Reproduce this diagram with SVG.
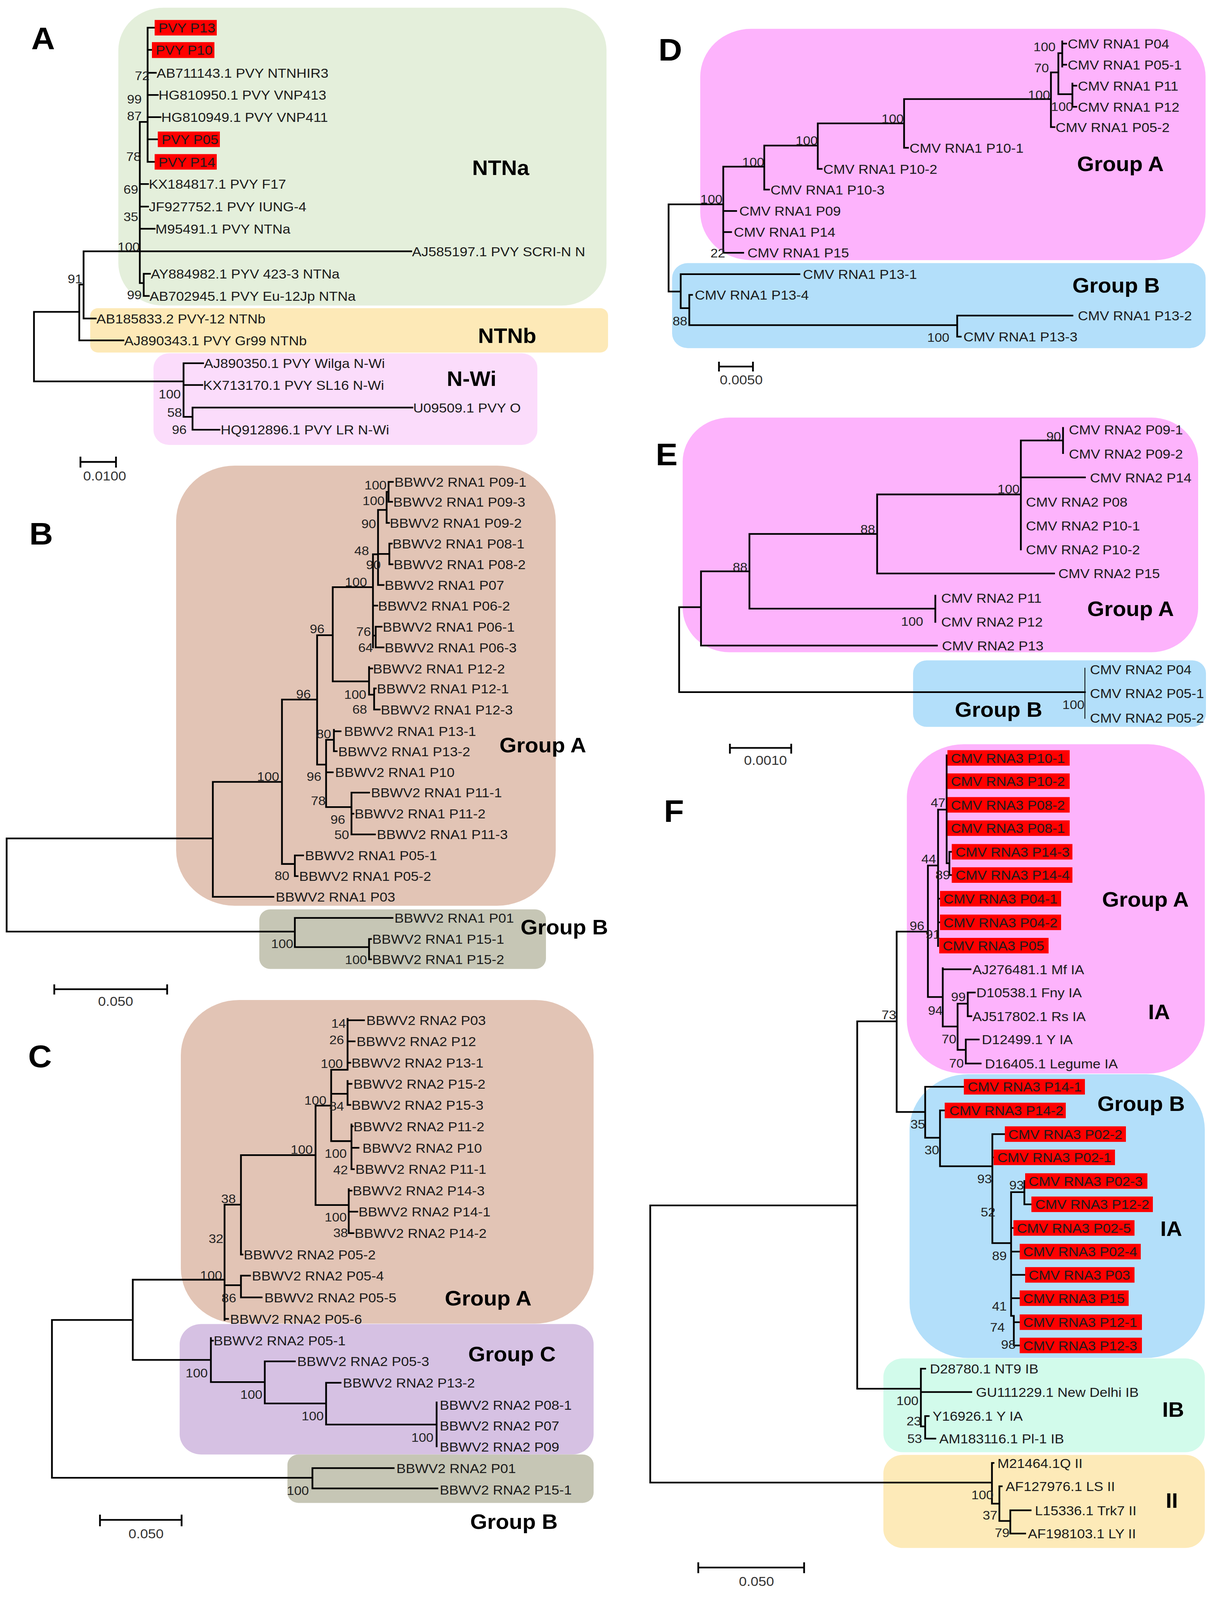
<svg xmlns="http://www.w3.org/2000/svg" width="3106" height="4313" viewBox="0 0 3106 4313">
<style>
text{font-family:"Liberation Sans",Arial,sans-serif}
.lf{font-size:36px;fill:#1a1a1a}
.bs{font-size:34px;fill:#222;text-anchor:end}
.bl{font-size:34px;fill:#222}
.gl{font-size:56px;font-weight:bold;fill:#000}
.pl{font-size:84px;font-weight:bold;fill:#000}
.sc{font-size:36px;fill:#333;text-anchor:middle}
.br{fill:none;stroke:#000;stroke-width:4.5;stroke-linecap:square}
.thin{fill:none;stroke:#000;stroke-width:2}
.hl{fill:#fe0000}
</style>
<rect width="3106" height="4313" fill="#fff"/>
<g id="diagram" transform="scale(1 0.946)">
<g id="clades">
<rect id="A-NTNa" x="303" y="21" width="1250" height="806" rx="115" fill="#e4efdb"/>
<rect id="A-NTNb" x="231" y="834" width="1326" height="120" rx="20" fill="#fde9b7"/>
<rect id="A-NWi" x="393" y="956" width="983" height="248" rx="40" fill="#fbdcfb"/>
<rect id="B-GA" x="451" y="1260" width="972" height="1191" rx="150" fill="#e2c4b5"/>
<rect id="B-GB" x="664" y="2461" width="734" height="161" rx="28" fill="#c6c6b5"/>
<rect id="C-GA" x="463" y="2706" width="1057" height="876" rx="150" fill="#e2c4b5"/>
<rect id="C-GC" x="460" y="3583" width="1060" height="353" rx="55" fill="#d6c1e3"/>
<rect id="C-GB" x="736" y="3936" width="784" height="131" rx="28" fill="#c6c6b5"/>
<rect id="D-GA" x="1793" y="78" width="1294" height="626" rx="130" fill="#fdb3fc"/>
<rect id="D-GB" x="1721" y="712" width="1366" height="230" rx="40" fill="#b3dffa"/>
<rect id="E-GA" x="1748" y="1130" width="1320" height="635" rx="120" fill="#fdb3fc"/>
<rect id="E-GB" x="2338" y="1787" width="750" height="180" rx="35" fill="#b3dffa"/>
<rect id="F-GA" x="2322" y="2014" width="763" height="891" rx="145" fill="#fdb3fc"/>
<rect id="F-GB" x="2329" y="2907" width="756" height="768" rx="150" fill="#b3dffa"/>
<rect id="F-IB" x="2262" y="3676" width="823" height="254" rx="50" fill="#d2fbeb"/>
<rect id="F-II" x="2262" y="3937" width="823" height="252" rx="50" fill="#fdeab8"/>
</g>
<g id="connectors">
<path class="br" d="M378 75V438M378 75H396M378 135H389M378 197H399M378 257H404M378 317H411M378 377H404M378 438H396M358 330H378M358 330V766M358 498H379M358 559H379M358 619H396M214 680H1053M358 766H368M368 741V801M368 741H384M368 801H381M214 680V862H245M203 770H214M203 770V921H316M87 844H203M87 844V1032H470M470 983V1128M470 983H520M470 1042H518M470 1128H493M493 1103V1163M493 1103H1056M493 1163H562"/>
<path class="br" d="M995 1304V1358M995 1304H1006M995 1358H1004M990 1331V1415M990 1331H995M990 1415H996M968 1380V1583M968 1380H990M968 1583H982M968 1499H997M997 1471V1527M997 1471H1003M997 1527H1005M955 1500V1752M955 1500H968M852 1589H955M955 1639H966M955 1720H962M962 1696V1752M962 1696H977M962 1752H982M812 1719H852M852 1589V1844H945M945 1805V1880M945 1809H953M945 1880H958M958 1863V1920M958 1863H962M958 1920H972M722 1893H812M812 1719V2069H835M835 2002V2184M835 2002H855M855 1975V2033M855 1979H872M855 2033H862M835 2090H852M835 2184H900M900 2145V2258M900 2145H945M900 2202H905M900 2258H960M545 2116H722M722 1893V2338H755M755 2315V2371M755 2315H776M755 2371H762M545 2116V2427H700M17 2269H545M17 2269V2521H755M755 2484V2563M755 2484H1005M755 2563H945M945 2541V2596M945 2541H950M945 2596H950"/>
<path class="br" d="M890 2757V2895M890 2761H932M890 2818H908M890 2876H897M848 2895H890M890 2925V2990M890 2933H900M890 2990H897M848 2960H890M848 2895V3088H900M900 3043V3164M900 3048H903M900 3106H918M900 3164H906M808 2992H848M617 3126H808M808 2992V3261H893M893 3218V3337M893 3222H900M893 3279H915M893 3337H905M575 3260H617M617 3126V3395H621M575 3260V3572M340 3463H575M575 3478H617M617 3452V3511M617 3452H640M617 3511H670M575 3569H584M340 3463V3680M133 3572H340M133 3572V3999M340 3680H540M540 3621V3740M540 3628H545M540 3740H678M678 3684V3798M678 3684H755M678 3798H835M835 3742V3855M835 3742H872M835 3855H1118M1118 3795V3914M133 3999H800M800 3973V4028M800 3973H1008M800 4028H1120"/>
<path class="br" d="M2720 112V180M2720 118H2730M2720 175H2730M2710 144H2720M2710 144V255M2691 196H2710M2710 255H2746M2746 226V289M2746 232H2756M2746 289H2756M2691 196V344H2700M2315 268H2691M2315 268V400H2325M2094 334H2315M2094 334V457H2104M1957 394H2094M1957 394V513H1969M1852 451H1957M1852 451V684M1852 571H1885M1852 628H1872M1852 684H1903M1712 553H1852M1712 553V789H1743M1743 742V834M1743 742H2047M1743 834H1765M1765 798V880M1765 798H1772M1765 880H2451M2451 854V911M2451 854H2746M2451 911H2460"/>
<path class="br" d="M2722 1158V1226M2614 1192H2722M2614 1192V1487M2614 1292H2778M2246 1338H2614M2246 1338V1552H2699M1919 1445H2246M1919 1445V1647H2395M2395 1612V1683M1795 1546H1919M1795 1546V1747H2399M1739 1643H1795M1739 1643V1873H2778"/>
<path class="thin" d="M2778 1807V1945"/>
<path class="br" d="M2424 2044V2336M2402 2191H2424M2431 2305V2368M2424 2336H2431M2431 2305H2437M2431 2368H2437M2402 2191V2560M2402 2432H2407M2402 2496H2407M2376 2342H2402M2376 2342V2698M2296 2521H2376M2376 2698H2414M2414 2620V2778M2414 2623H2485M2414 2778H2452M2452 2716V2841M2452 2716H2478M2478 2686V2750M2478 2686H2496M2478 2750H2487M2452 2841H2473M2473 2813V2878M2473 2813H2506M2473 2878H2511M2195 2764H2296M2296 2521V3009H2369M2369 2941V3079M2369 2941H2468M2369 3079H2407M2407 3005V3156M2407 3005H2419M2407 3156H2541M2541 3069V3364M2541 3069H2573M2541 3132H2544M2541 3364H2589M2589 3226V3561M2589 3226H2623M2623 3196V3259M2623 3196H2625M2623 3259H2641M2589 3323H2595M2589 3387H2611M2589 3450H2625M2589 3513H2611M2589 3561H2596M2596 3561V3641M2596 3578H2611M2596 3641H2611M1665 3262H2195M2195 2764V3758M1665 3262V4012M2195 3758H2358M2358 3704V3860M2358 3704H2369M2358 3767H2487M2358 3860H2369M2369 3832V3893M2369 3832H2378M2369 3893H2395M1665 4012H2540M2540 3959V4069M2540 3959H2544M2540 4069H2559M2559 4022V4116M2559 4022H2565M2559 4116H2587M2587 4087V4150M2587 4087H2639M2587 4150H2625"/>
<path class="br" d="M206 1250H297M206 1238V1263M297 1238V1263M139 2677H428M139 2666V2689M428 2666V2689M256 4113H465M256 4101V4128M465 4101V4128M1841 992H1928M1841 981V1003M1928 981V1003M1869 2024H2026M1869 2015V2037M2026 2015V2037M1788 4242H2059M1788 4230V4255M2059 4230V4255"/>
</g>
<g id="panel-labels">
<text class="pl" x="80" y="133">A</text>
<text class="pl" x="75" y="1474">B</text>
<text class="pl" x="72" y="2888">C</text>
<text class="pl" x="1686" y="164">D</text>
<text class="pl" x="1679" y="1259">E</text>
<text class="pl" x="1700" y="2224">F</text>
</g>
<g id="group-labels">
<text class="gl" x="1209" y="474">NTNa</text>
<text class="gl" x="1224" y="928">NTNb</text>
<text class="gl" x="1144" y="1044">N-Wi</text>
<text class="gl" x="1279" y="2036">Group A</text>
<text class="gl" x="1333" y="2529">Group B</text>
<text class="gl" x="1139" y="3533">Group A</text>
<text class="gl" x="1199" y="3684">Group C</text>
<text class="gl" x="1204" y="4137">Group B</text>
<text class="gl" x="2758" y="463">Group A</text>
<text class="gl" x="2746" y="792">Group B</text>
<text class="gl" x="2784" y="1667">Group A</text>
<text class="gl" x="2445" y="1940">Group B</text>
<text class="gl" x="2822" y="2454">Group A</text>
<text class="gl" x="2940" y="2758">IA</text>
<text class="gl" x="2810" y="3006">Group B</text>
<text class="gl" x="2971" y="3345">IA</text>
<text class="gl" x="2976" y="3834">IB</text>
<text class="gl" x="2985" y="4080">II</text>
</g>
<g id="scale-labels">
<text class="sc" x="268" y="1300">0.0100</text>
<text class="sc" x="296" y="2722">0.050</text>
<text class="sc" x="374" y="4163">0.050</text>
<text class="sc" x="1898" y="1040">0.0050</text>
<text class="sc" x="1960" y="2070">0.0010</text>
<text class="sc" x="1937" y="4292">0.050</text>
</g>
<g id="bootstrap">
<text class="bs" x="383" y="217">72</text><text class="bs" x="363" y="280">99</text><text class="bs" x="363" y="326">87</text><text class="bs" x="361" y="436">78</text><text class="bs" x="354" y="524">69</text><text class="bs" x="354" y="598">35</text><text class="bs" x="358" y="680">100</text><text class="bs" x="211" y="766">91</text><text class="bs" x="363" y="810">99</text><text class="bs" x="463" y="1078">100</text><text class="bs" x="466" y="1128">58</text><text class="bs" x="478" y="1174">96</text>
<text class="bs" x="990" y="1325">100</text><text class="bs" x="985" y="1367">100</text><text class="bs" x="963" y="1429">90</text><text class="bs" x="945" y="1502">48</text><text class="bs" x="975" y="1540">90</text><text class="bs" x="940" y="1587">100</text><text class="bs" x="950" y="1721">76</text><text class="bs" x="955" y="1764">64</text><text class="bs" x="831" y="1714">96</text><text class="bs" x="938" y="1891">100</text><text class="bs" x="940" y="1931">68</text><text class="bs" x="796" y="1890">96</text><text class="bs" x="848" y="1998">80</text><text class="bs" x="823" y="2113">96</text><text class="bs" x="834" y="2179">78</text><text class="bs" x="884" y="2229">96</text><text class="bs" x="894" y="2271">50</text><text class="bs" x="715" y="2113">100</text><text class="bs" x="741" y="2382">80</text><text class="bs" x="751" y="2566">100</text><text class="bs" x="940" y="2609">100</text>
<text class="bs" x="886" y="2781">14</text><text class="bs" x="881" y="2826">26</text><text class="bs" x="878" y="2890">100</text><text class="bs" x="881" y="3005">84</text><text class="bs" x="836" y="2989">100</text><text class="bs" x="888" y="3133">100</text><text class="bs" x="891" y="3178">42</text><text class="bs" x="801" y="3123">100</text><text class="bs" x="888" y="3305">100</text><text class="bs" x="891" y="3348">38</text><text class="bs" x="604" y="3256">38</text><text class="bs" x="572" y="3364">32</text><text class="bs" x="569" y="3463">100</text><text class="bs" x="605" y="3524">86</text><text class="bs" x="532" y="3727">100</text><text class="bs" x="672" y="3785">100</text><text class="bs" x="829" y="3844">100</text><text class="bs" x="1110" y="3902">100</text><text class="bs" x="791" y="4045">100</text>
<text class="bs" x="2703" y="138">100</text><text class="bs" x="2686" y="196">70</text><text class="bs" x="2748" y="300">100</text><text class="bs" x="2689" y="268">100</text><text class="bs" x="2314" y="333">100</text><text class="bs" x="2094" y="392">100</text><text class="bs" x="1957" y="450">100</text><text class="bs" x="1850" y="551">100</text><text class="bs" x="1857" y="697">22</text><text class="bs" x="1760" y="881">88</text><text class="bs" x="2431" y="925">100</text>
<text class="bs" x="2717" y="1192">90</text><text class="bs" x="2611" y="1335">100</text><text class="bs" x="2241" y="1444">88</text><text class="bs" x="2364" y="1693">100</text><text class="bs" x="1914" y="1546">88</text><text class="bs" x="2777" y="1919">100</text>
<text class="bs" x="2421" y="2184">47</text><text class="bs" x="2433" y="2379">89</text><text class="bs" x="2397" y="2336">44</text><text class="bs" x="2367" y="2517">96</text><text class="bl" x="2370" y="2540">91</text><text class="bs" x="2473" y="2709">99</text><text class="bs" x="2414" y="2746">94</text><text class="bs" x="2449" y="2824">70</text><text class="bs" x="2468" y="2889">70</text><text class="bs" x="2295" y="2758">73</text><text class="bs" x="2369" y="3054">35</text><text class="bs" x="2405" y="3124">30</text><text class="bs" x="2540" y="3202">93</text><text class="bs" x="2622" y="3219">93</text><text class="bs" x="2549" y="3292">52</text><text class="bs" x="2578" y="3410">89</text><text class="bs" x="2578" y="3546">41</text><text class="bs" x="2573" y="3604">74</text><text class="bs" x="2601" y="3650">98</text><text class="bs" x="2352" y="3802">100</text><text class="bs" x="2359" y="3857">23</text><text class="bs" x="2361" y="3905">53</text><text class="bs" x="2544" y="4057">100</text><text class="bs" x="2554" y="4112">37</text><text class="bs" x="2585" y="4160">79</text>
</g>
<g id="leaves-A">
<g id="a1"><rect class="hl" x="396" y="54" width="159" height="42"/><text class="lf" x="406" y="88">PVY P13</text></g>
<g id="a2"><rect class="hl" x="389" y="114" width="160" height="43"/><text class="lf" x="399" y="148">PVY P10</text></g>
<g id="a3"><text class="lf" x="401" y="210">AB711143.1 PVY NTNHIR3</text></g>
<g id="a4"><text class="lf" x="406" y="270">HG810950.1 PVY VNP413</text></g>
<g id="a5"><text class="lf" x="413" y="330">HG810949.1 PVY VNP411</text></g>
<g id="a6"><rect class="hl" x="404" y="356" width="159" height="42"/><text class="lf" x="414" y="390">PVY P05</text></g>
<g id="a7"><rect class="hl" x="396" y="417" width="159" height="42"/><text class="lf" x="406" y="451">PVY P14</text></g>
<g id="a8"><text class="lf" x="381" y="511">KX184817.1 PVY F17</text></g>
<g id="a9"><text class="lf" x="381" y="572">JF927752.1 PVY IUNG-4</text></g>
<g id="a10"><text class="lf" x="398" y="632">M95491.1 PVY NTNa</text></g>
<g id="a11"><text class="lf" x="1055" y="693">AJ585197.1 PVY SCRI-N N</text></g>
<g id="a12"><text class="lf" x="386" y="754">AY884982.1 PYV 423-3 NTNa</text></g>
<g id="a13"><text class="lf" x="383" y="814">AB702945.1 PVY Eu-12Jp NTNa</text></g>
<g id="a14"><text class="lf" x="247" y="875">AB185833.2 PVY-12 NTNb</text></g>
<g id="a15"><text class="lf" x="318" y="934">AJ890343.1 PVY Gr99 NTNb</text></g>
<g id="a16"><text class="lf" x="522" y="996">AJ890350.1 PVY Wilga N-Wi</text></g>
<g id="a17"><text class="lf" x="520" y="1055">KX713170.1 PVY SL16 N-Wi</text></g>
<g id="a18"><text class="lf" x="1058" y="1116">U09509.1 PVY O</text></g>
<g id="a19"><text class="lf" x="565" y="1176">HQ912896.1 PVY LR N-Wi</text></g>
</g>
<g id="leaves-B">
<g id="b1"><text class="lf" x="1010" y="1317">BBWV2 RNA1 P09-1</text></g>
<g id="b2"><text class="lf" x="1007" y="1371">BBWV2 RNA1 P09-3</text></g>
<g id="b3"><text class="lf" x="998" y="1428">BBWV2 RNA1 P09-2</text></g>
<g id="b4"><text class="lf" x="1005" y="1484">BBWV2 RNA1 P08-1</text></g>
<g id="b5"><text class="lf" x="1008" y="1540">BBWV2 RNA1 P08-2</text></g>
<g id="b6"><text class="lf" x="985" y="1596">BBWV2 RNA1 P07</text></g>
<g id="b7"><text class="lf" x="968" y="1652">BBWV2 RNA1 P06-2</text></g>
<g id="b8"><text class="lf" x="980" y="1709">BBWV2 RNA1 P06-1</text></g>
<g id="b9"><text class="lf" x="985" y="1765">BBWV2 RNA1 P06-3</text></g>
<g id="b10"><text class="lf" x="955" y="1822">BBWV2 RNA1 P12-2</text></g>
<g id="b11"><text class="lf" x="965" y="1876">BBWV2 RNA1 P12-1</text></g>
<g id="b12"><text class="lf" x="975" y="1933">BBWV2 RNA1 P12-3</text></g>
<g id="b13"><text class="lf" x="881" y="1992">BBWV2 RNA1 P13-1</text></g>
<g id="b14"><text class="lf" x="866" y="2046">BBWV2 RNA1 P13-2</text></g>
<g id="b15"><text class="lf" x="858" y="2103">BBWV2 RNA1 P10</text></g>
<g id="b16"><text class="lf" x="950" y="2158">BBWV2 RNA1 P11-1</text></g>
<g id="b17"><text class="lf" x="908" y="2215">BBWV2 RNA1 P11-2</text></g>
<g id="b18"><text class="lf" x="965" y="2271">BBWV2 RNA1 P11-3</text></g>
<g id="b19"><text class="lf" x="781" y="2328">BBWV2 RNA1 P05-1</text></g>
<g id="b20"><text class="lf" x="766" y="2384">BBWV2 RNA1 P05-2</text></g>
<g id="b21"><text class="lf" x="706" y="2440">BBWV2 RNA1 P03</text></g>
<g id="b22"><text class="lf" x="1010" y="2497">BBWV2 RNA1 P01</text></g>
<g id="b23"><text class="lf" x="953" y="2554">BBWV2 RNA1 P15-1</text></g>
<g id="b24"><text class="lf" x="953" y="2609">BBWV2 RNA1 P15-2</text></g>
</g>
<g id="leaves-C">
<g id="c1"><text class="lf" x="938" y="2774">BBWV2 RNA2 P03</text></g>
<g id="c2"><text class="lf" x="913" y="2831">BBWV2 RNA2 P12</text></g>
<g id="c3"><text class="lf" x="900" y="2889">BBWV2 RNA2 P13-1</text></g>
<g id="c4"><text class="lf" x="905" y="2946">BBWV2 RNA2 P15-2</text></g>
<g id="c5"><text class="lf" x="900" y="3003">BBWV2 RNA2 P15-3</text></g>
<g id="c6"><text class="lf" x="905" y="3061">BBWV2 RNA2 P11-2</text></g>
<g id="c7"><text class="lf" x="928" y="3119">BBWV2 RNA2 P10</text></g>
<g id="c8"><text class="lf" x="910" y="3177">BBWV2 RNA2 P11-1</text></g>
<g id="c9"><text class="lf" x="903" y="3235">BBWV2 RNA2 P14-3</text></g>
<g id="c10"><text class="lf" x="918" y="3292">BBWV2 RNA2 P14-1</text></g>
<g id="c11"><text class="lf" x="908" y="3350">BBWV2 RNA2 P14-2</text></g>
<g id="c12"><text class="lf" x="624" y="3408">BBWV2 RNA2 P05-2</text></g>
<g id="c13"><text class="lf" x="645" y="3465">BBWV2 RNA2 P05-4</text></g>
<g id="c14"><text class="lf" x="677" y="3524">BBWV2 RNA2 P05-5</text></g>
<g id="c15"><text class="lf" x="589" y="3582">BBWV2 RNA2 P05-6</text></g>
<g id="c16"><text class="lf" x="547" y="3641">BBWV2 RNA2 P05-1</text></g>
<g id="c17"><text class="lf" x="761" y="3697">BBWV2 RNA2 P05-3</text></g>
<g id="c18"><text class="lf" x="878" y="3755">BBWV2 RNA2 P13-2</text></g>
<g id="c19"><text class="lf" x="1126" y="3815">BBWV2 RNA2 P08-1</text></g>
<g id="c20"><text class="lf" x="1126" y="3871">BBWV2 RNA2 P07</text></g>
<g id="c21"><text class="lf" x="1126" y="3928">BBWV2 RNA2 P09</text></g>
<g id="c22"><text class="lf" x="1015" y="3986">BBWV2 RNA2 P01</text></g>
<g id="c23"><text class="lf" x="1126" y="4044">BBWV2 RNA2 P15-1</text></g>
</g>
<g id="leaves-D">
<g id="d1"><text class="lf" x="2734" y="131">CMV RNA1 P04</text></g>
<g id="d2"><text class="lf" x="2734" y="188">CMV RNA1 P05-1</text></g>
<g id="d3"><text class="lf" x="2760" y="245">CMV RNA1 P11</text></g>
<g id="d4"><text class="lf" x="2760" y="302">CMV RNA1 P12</text></g>
<g id="d5"><text class="lf" x="2703" y="357">CMV RNA1 P05-2</text></g>
<g id="d6"><text class="lf" x="2329" y="413">CMV RNA1 P10-1</text></g>
<g id="d7"><text class="lf" x="2108" y="470">CMV RNA1 P10-2</text></g>
<g id="d8"><text class="lf" x="1973" y="526">CMV RNA1 P10-3</text></g>
<g id="d9"><text class="lf" x="1893" y="584">CMV RNA1 P09</text></g>
<g id="d10"><text class="lf" x="1879" y="641">CMV RNA1 P14</text></g>
<g id="d11"><text class="lf" x="1914" y="697">CMV RNA1 P15</text></g>
<g id="d12"><text class="lf" x="2056" y="755">CMV RNA1 P13-1</text></g>
<g id="d13"><text class="lf" x="1779" y="811">CMV RNA1 P13-4</text></g>
<g id="d14"><text class="lf" x="2760" y="867">CMV RNA1 P13-2</text></g>
<g id="d15"><text class="lf" x="2467" y="924">CMV RNA1 P13-3</text></g>
</g>
<g id="leaves-E">
<g id="e1"><text class="lf" x="2737" y="1176">CMV RNA2 P09-1</text></g>
<g id="e2"><text class="lf" x="2737" y="1241">CMV RNA2 P09-2</text></g>
<g id="e3"><text class="lf" x="2791" y="1305">CMV RNA2 P14</text></g>
<g id="e4"><text class="lf" x="2627" y="1371">CMV RNA2 P08</text></g>
<g id="e5"><text class="lf" x="2627" y="1436">CMV RNA2 P10-1</text></g>
<g id="e6"><text class="lf" x="2627" y="1500">CMV RNA2 P10-2</text></g>
<g id="e7"><text class="lf" x="2710" y="1565">CMV RNA2 P15</text></g>
<g id="e8"><text class="lf" x="2410" y="1631">CMV RNA2 P11</text></g>
<g id="e9"><text class="lf" x="2410" y="1696">CMV RNA2 P12</text></g>
<g id="e10"><text class="lf" x="2412" y="1760">CMV RNA2 P13</text></g>
<g id="e11"><text class="lf" x="2791" y="1825">CMV RNA2 P04</text></g>
<g id="e12"><text class="lf" x="2791" y="1889">CMV RNA2 P05-1</text></g>
<g id="e13"><text class="lf" x="2791" y="1956">CMV RNA2 P05-2</text></g>
</g>
<g id="leaves-F">
<g id="f1"><rect class="hl" x="2426" y="2030" width="313" height="42"/><text class="lf" x="2435" y="2064">CMV RNA3 P10-1</text></g>
<g id="f2"><rect class="hl" x="2426" y="2093" width="313" height="42"/><text class="lf" x="2435" y="2127">CMV RNA3 P10-2</text></g>
<g id="f3"><rect class="hl" x="2426" y="2157" width="313" height="42"/><text class="lf" x="2435" y="2191">CMV RNA3 P08-2</text></g>
<g id="f4"><rect class="hl" x="2426" y="2220" width="313" height="42"/><text class="lf" x="2435" y="2254">CMV RNA3 P08-1</text></g>
<g id="f5"><rect class="hl" x="2437" y="2284" width="309" height="42"/><text class="lf" x="2447" y="2318">CMV RNA3 P14-3</text></g>
<g id="f6"><rect class="hl" x="2437" y="2347" width="309" height="42"/><text class="lf" x="2447" y="2381">CMV RNA3 P14-4</text></g>
<g id="f7"><rect class="hl" x="2407" y="2411" width="310" height="42"/><text class="lf" x="2416" y="2445">CMV RNA3 P04-1</text></g>
<g id="f8"><rect class="hl" x="2407" y="2475" width="310" height="42"/><text class="lf" x="2416" y="2509">CMV RNA3 P04-2</text></g>
<g id="f9"><rect class="hl" x="2405" y="2538" width="280" height="42"/><text class="lf" x="2414" y="2572">CMV RNA3 P05</text></g>
<g id="f10"><text class="lf" x="2490" y="2636">AJ276481.1 Mf IA</text></g>
<g id="f11"><text class="lf" x="2500" y="2699">D10538.1 Fny IA</text></g>
<g id="f12"><text class="lf" x="2490" y="2763">AJ517802.1 Rs IA</text></g>
<g id="f13"><text class="lf" x="2514" y="2826">D12499.1 Y IA</text></g>
<g id="f14"><text class="lf" x="2522" y="2891">D16405.1 Legume IA</text></g>
<g id="f15"><rect class="hl" x="2468" y="2920" width="310" height="42"/><text class="lf" x="2478" y="2954">CMV RNA3 P14-1</text></g>
<g id="f16"><rect class="hl" x="2419" y="2984" width="310" height="42"/><text class="lf" x="2431" y="3018">CMV RNA3 P14-2</text></g>
<g id="f17"><rect class="hl" x="2573" y="3048" width="310" height="42"/><text class="lf" x="2582" y="3082">CMV RNA3 P02-2</text></g>
<g id="f18"><rect class="hl" x="2544" y="3111" width="311" height="42"/><text class="lf" x="2554" y="3145">CMV RNA3 P02-1</text></g>
<g id="f19"><rect class="hl" x="2625" y="3175" width="313" height="42"/><text class="lf" x="2634" y="3209">CMV RNA3 P02-3</text></g>
<g id="f20"><rect class="hl" x="2641" y="3238" width="311" height="42"/><text class="lf" x="2651" y="3272">CMV RNA3 P12-2</text></g>
<g id="f21"><rect class="hl" x="2595" y="3302" width="310" height="42"/><text class="lf" x="2604" y="3336">CMV RNA3 P02-5</text></g>
<g id="f22"><rect class="hl" x="2611" y="3366" width="310" height="42"/><text class="lf" x="2620" y="3400">CMV RNA3 P02-4</text></g>
<g id="f23"><rect class="hl" x="2625" y="3429" width="280" height="42"/><text class="lf" x="2634" y="3463">CMV RNA3 P03</text></g>
<g id="f24"><rect class="hl" x="2611" y="3492" width="279" height="42"/><text class="lf" x="2620" y="3526">CMV RNA3 P15</text></g>
<g id="f25"><rect class="hl" x="2611" y="3557" width="313" height="42"/><text class="lf" x="2620" y="3591">CMV RNA3 P12-1</text></g>
<g id="f26"><rect class="hl" x="2611" y="3620" width="313" height="42"/><text class="lf" x="2620" y="3654">CMV RNA3 P12-3</text></g>
<g id="f27"><text class="lf" x="2381" y="3717">D28780.1 NT9 IB</text></g>
<g id="f28"><text class="lf" x="2499" y="3780">GU111229.1 New Delhi IB</text></g>
<g id="f29"><text class="lf" x="2388" y="3845">Y16926.1 Y IA</text></g>
<g id="f30"><text class="lf" x="2405" y="3906">AM183116.1 Pl-1 IB</text></g>
<g id="f31"><text class="lf" x="2554" y="3972">M21464.1Q II</text></g>
<g id="f32"><text class="lf" x="2575" y="4035">AF127976.1 LS II</text></g>
<g id="f33"><text class="lf" x="2650" y="4100">L15336.1 Trk7 II</text></g>
<g id="f34"><text class="lf" x="2632" y="4163">AF198103.1 LY II</text></g>
</g>
</g>
</svg>
